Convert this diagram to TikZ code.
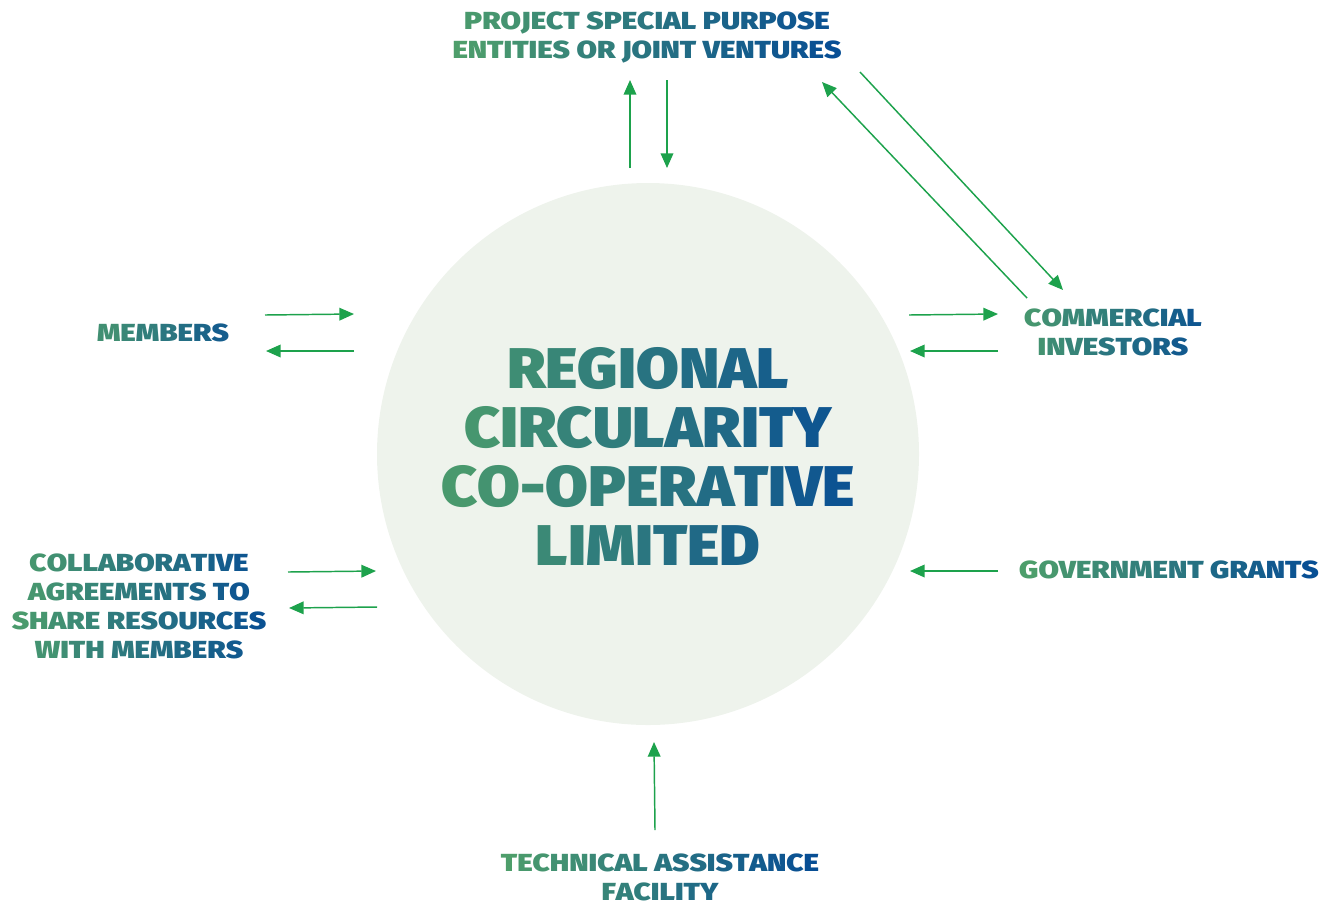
\documentclass[tikz,border=0pt]{standalone}
\usepackage{fontspec}
\usepackage{tikz}
\usetikzlibrary{arrows.meta}
\IfFontExistsTF{Fira Sans Black}{%
  \newfontfamily\hfont{Fira Sans Black}[FakeStretch=1.08]
  \newfontfamily\lfont{Fira Sans Black}[FakeStretch=1.2]}{%
  \newfontfamily\hfont{Fira Sans}[UprightFont=* Bold, FakeStretch=1.08]
  \newfontfamily\lfont{Fira Sans}[UprightFont=* Bold, FakeStretch=1.2]}
\newcommand\lblfont{\lfont\fontsize{18.5}{21.75}\selectfont}
\newcommand\ttlfont{\hfont\fontsize{43}{44.25}\selectfont}
\definecolor{cgreen}{HTML}{4FA06A}
\definecolor{cblue}{HTML}{064C95}
\definecolor{circfill}{HTML}{EEF3EC}
\definecolor{arrowgreen}{HTML}{1DA24C}
% letter-by-letter green-to-blue colouring; #1 = width (in letters) the gradient spans
\ExplSyntaxOn
\int_new:N \l_gl_len_int
\int_new:N \l_gl_i_int
\NewDocumentCommand \gl { m m }
  {
    \int_set:Nn \l_gl_len_int { \str_count:n {#2} }
    \int_zero:N \l_gl_i_int
    \str_map_inline:nn {#2}
      {
        \int_incr:N \l_gl_i_int
        \color{cblue!\fp_eval:n { round( 100 * ( (#1 - \l_gl_len_int) / 2 + \l_gl_i_int - 0.5 ) / #1 , 0) }!cgreen}\relax ##1
      }
  }
\ExplSyntaxOff
\tikzset{
  lbl/.style={font=\lblfont, align=center, inner sep=1pt},
  ttl/.style={font=\ttlfont, align=center, inner sep=1pt},
  flow/.style={draw=arrowgreen, line width=1.1pt, -{Triangle[length=11pt,width=9.5pt]}}
}

\begin{document}
\begin{tikzpicture}[x=0.75pt, y=-0.75pt]
\useasboundingbox (0,0) rectangle (1337,904);

\node (coop) [circle, fill=circfill, minimum size=406.5pt] at (648,454) {};

\node (title) [ttl] at (648,456) {\gl{13}{REGIONAL}\\\gl{13}{CIRCULARITY}\\\gl{13}{CO-OPERATIVE}\\\gl{13}{LIMITED}};
\node (spv) [lbl] at (647,37) {\gl{26}{PROJECT SPECIAL PURPOSE}\\\gl{26}{ENTITIES OR JOINT VENTURES}};
\node (members) [lbl] at (163,333) {\gl{10}{MEMBERS}};
\node (investors) [lbl] at (1113,332) {\gl{12}{COMMERCIAL}\\\gl{12}{INVESTORS}};
\node (grants) [lbl] at (1169,570) {\gl{17}{GOVERNMENT GRANTS}};
\node (collab) [lbl] at (139,606) {\gl{16}{COLLABORATIVE}\\\gl{16}{AGREEMENTS TO}\\\gl{16}{SHARE RESOURCES}\\\gl{16}{WITH MEMBERS}};
\node (taf) [lbl] at (660,877) {\gl{20}{TECHNICAL ASSISTANCE}\\\gl{20}{FACILITY}};

% arrow ends
\coordinate (spvup0) at (630,168);   \coordinate (spvup1) at (630,80);
\coordinate (spvdn0) at (667,80);    \coordinate (spvdn1) at (667,168);
\coordinate (diag0) at (860,72);     \coordinate (diag1) at (1063,290);
\coordinate (diag2) at (1027,298);   \coordinate (diag3) at (822,82);
\coordinate (mem0) at (265,315);     \coordinate (mem1) at (354,314);
\coordinate (mem2) at (354,351);     \coordinate (mem3) at (266,351);
\coordinate (inv0) at (909,315);     \coordinate (inv1) at (998,314);
\coordinate (inv2) at (998,351);     \coordinate (inv3) at (910,351);
\coordinate (gra0) at (998,571);     \coordinate (gra1) at (910,571);
\coordinate (col0) at (288,572);     \coordinate (col1) at (376,571);
\coordinate (col2) at (377,607);     \coordinate (col3) at (289,608);
\coordinate (taf0) at (655,830);     \coordinate (taf1) at (654,742);

\draw [flow] (spvup0) -- (spvup1);
\draw [flow] (spvdn0) -- (spvdn1);
\draw [flow] (diag0) -- (diag1);
\draw [flow] (diag2) -- (diag3);
\draw [flow] (mem0) -- (mem1);
\draw [flow] (mem2) -- (mem3);
\draw [flow] (inv0) -- (inv1);
\draw [flow] (inv2) -- (inv3);
\draw [flow] (gra0) -- (gra1);
\draw [flow] (col0) -- (col1);
\draw [flow] (col2) -- (col3);
\draw [flow] (taf0) -- (taf1);
\end{tikzpicture}
\end{document}
